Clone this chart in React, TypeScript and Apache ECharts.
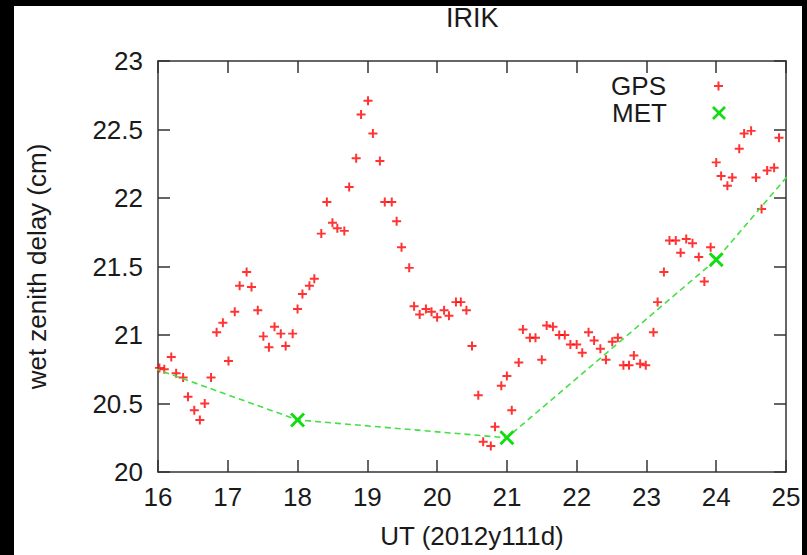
import React, { useEffect, useRef } from "react";
import * as echarts from "echarts";

const title = "IRIK";
const xAxisName = "UT (2012y111d)";
const yAxisName = "wet zenith delay (cm)";
const seriesNames = ["GPS", "MET"];

const gpsTimes = [
  16.02, 16.09, 16.19, 16.26, 16.36, 16.43, 16.52, 16.6, 16.67, 16.76, 16.84, 16.93,
  17.01, 17.1, 17.17, 17.27, 17.34, 17.43, 17.51, 17.59, 17.67, 17.76, 17.83, 17.93,
  18.0, 18.07, 18.17, 18.24, 18.34, 18.42, 18.5, 18.57, 18.67, 18.74, 18.84, 18.91,
  19.01, 19.08, 19.18, 19.25, 19.35, 19.42, 19.49, 19.6, 19.67, 19.75, 19.84, 19.92,
  20.0, 20.1, 20.17, 20.27, 20.34, 20.42, 20.5, 20.59, 20.66, 20.77, 20.83, 20.92,
  21.0, 21.07, 21.17, 21.23, 21.33, 21.41, 21.5, 21.57, 21.66, 21.75, 21.83, 21.91,
  22.0, 22.08, 22.17, 22.25, 22.34, 22.42, 22.51, 22.59, 22.67, 22.75, 22.82, 22.91,
  22.99, 23.1, 23.16, 23.25, 23.33, 23.42, 23.49, 23.57, 23.66, 23.75, 23.83, 23.92,
  24.0, 24.07, 24.16, 24.23, 24.33, 24.4, 24.5, 24.57, 24.65, 24.73, 24.83, 24.9,
];
const gpsDelays = [
  20.76, 20.75, 20.84, 20.72, 20.69, 20.55, 20.45, 20.38, 20.5, 20.69, 21.02, 21.09,
  20.81, 21.17, 21.36, 21.46, 21.35, 21.18, 20.99, 20.91, 21.06, 21.01, 20.92, 21.01,
  21.19, 21.3, 21.36, 21.41, 21.74, 21.97, 21.82, 21.78, 21.76, 22.08, 22.29, 22.61,
  22.71, 22.47, 22.27, 21.97, 21.97, 21.83, 21.64, 21.49, 21.21, 21.15, 21.19, 21.17,
  21.13, 21.18, 21.14, 21.24, 21.24, 21.18, 20.92, 20.56, 20.22, 20.19, 20.33, 20.63,
  20.7, 20.45, 20.8, 21.04, 20.98, 20.98, 20.82, 21.07, 21.06, 21.0, 21.0, 20.93,
  20.93, 20.87, 21.02, 20.96, 20.9, 20.82, 20.95, 20.98, 20.78, 20.78, 20.85, 20.79,
  20.78, 21.02, 21.24, 21.46, 21.69, 21.69, 21.6, 21.7, 21.67, 21.57, 21.39, 21.64,
  22.26, 22.16, 22.09, 22.15, 22.36, 22.47, 22.49, 22.15, 21.92, 22.2, 22.22, 22.44,
];

const metTimes = [15, 18, 21, 24, 27];
const metDelays = [20.93, 20.38, 20.25, 21.55, 23.34];

const xTicks = { min: 16, max: 25, interval: 1 };
const yTicks = { min: 20, max: 23, interval: 0.5 };

const plusPath = "path://M3.9,0H6.1V3.9H10V6.1H6.1V10H3.9V6.1H0V3.9H3.9Z";
const crossPath =
  "path://M0,2.2L2.2,0L8,5.8L13.8,0L16,2.2L10.2,8L16,13.8L13.8,16L8,10.2L2.2,16L0,13.8L5.8,8Z";

const FONT = "'Liberation Sans', Arial, sans-serif";
const TEXT = "#1a1a1a";
const AXIS = "#333333";

export default function App() {
  const ref = useRef<HTMLDivElement>(null);

  useEffect(() => {
    if (!ref.current) return;
    const chart = echarts.init(ref.current, undefined, { renderer: "svg" });

    const gpsData = gpsTimes.map((t, i) => [t, gpsDelays[i]]);
    const metData = metTimes.map((t, i) => [t, metDelays[i]]);

    const axisLine = { show: true, lineStyle: { color: AXIS, width: 1.5 } };
    const axisTick = { show: true, inside: true, length: 12, lineStyle: { color: AXIS, width: 1.5 } };

    const option: any = {
      animation: false,
      backgroundColor: "#000000",
      textStyle: { fontFamily: FONT },
      graphic: {
        elements: [
          {
            type: "rect",
            z: -100,
            shape: { x: 14, y: 6, width: 788, height: 549 },
            style: { fill: "#ffffff" },
            silent: true,
          },
        ],
      },
      title: {
        text: title,
        left: 446,
        top: 4,
        padding: 0,
        textStyle: { fontFamily: FONT, fontSize: 27, fontWeight: "normal", color: TEXT },
      },
      legend: [
        {
          data: [{ name: seriesNames[0], icon: plusPath }],
          align: "right",
          right: 84,
          top: 71,
          padding: 0,
          itemWidth: 9,
          itemHeight: 9,
          selectedMode: false,
          textStyle: {
            fontFamily: FONT,
            fontSize: 26,
            color: TEXT,
            lineHeight: 30,
            padding: [0, 43, 0, 0],
          },
        },
        {
          data: [{ name: seriesNames[1], icon: crossPath }],
          align: "right",
          right: 81,
          top: 98,
          padding: 0,
          itemWidth: 14,
          itemHeight: 14,
          selectedMode: false,
          textStyle: {
            fontFamily: FONT,
            fontSize: 26,
            color: TEXT,
            lineHeight: 30,
            padding: [0, 40, 0, 0],
          },
        },
      ],
      grid: { left: 158, right: 21, top: 61, bottom: 83, containLabel: false },
      xAxis: [
        {
          type: "value",
          position: "bottom",
          min: xTicks.min,
          max: xTicks.max,
          interval: xTicks.interval,
          name: xAxisName,
          nameLocation: "middle",
          nameGap: 51,
          nameTextStyle: { fontFamily: FONT, fontSize: 26, color: TEXT },
          axisLine,
          axisTick,
          splitLine: { show: false },
          axisLabel: { fontFamily: FONT, fontSize: 26, color: TEXT, margin: 12 },
        },
        {
          type: "value",
          position: "top",
          min: xTicks.min,
          max: xTicks.max,
          interval: xTicks.interval,
          axisLine,
          axisTick,
          splitLine: { show: false },
          axisLabel: { show: false },
        },
      ],
      yAxis: [
        {
          type: "value",
          position: "left",
          min: yTicks.min,
          max: yTicks.max,
          interval: yTicks.interval,
          name: yAxisName,
          nameLocation: "middle",
          nameGap: 108,
          nameTextStyle: { fontFamily: FONT, fontSize: 26, color: TEXT },
          axisLine,
          axisTick,
          splitLine: { show: false },
          axisLabel: { fontFamily: FONT, fontSize: 26, color: TEXT, margin: 15 },
        },
        {
          type: "value",
          position: "right",
          min: yTicks.min,
          max: yTicks.max,
          interval: yTicks.interval,
          axisLine,
          axisTick,
          splitLine: { show: false },
          axisLabel: { show: false },
        },
      ],
      series: [
        {
          name: seriesNames[0],
          type: "scatter",
          xAxisIndex: 0,
          yAxisIndex: 0,
          symbol: plusPath,
          symbolSize: 9,
          itemStyle: { color: "#ff0000" },
          data: gpsData,
          z: 2,
        },
        {
          name: seriesNames[1],
          type: "line",
          xAxisIndex: 0,
          yAxisIndex: 0,
          symbol: crossPath,
          symbolSize: 15,
          showAllSymbol: true,
          clip: true,
          itemStyle: { color: "#11dd11" },
          lineStyle: { color: "#44e044", width: 1.6, type: [6, 4] },
          data: metData,
          z: 3,
        },
      ],
    };

    chart.setOption(option);
    return () => chart.dispose();
  }, []);

  return (
    <div
      ref={ref}
      style={{ position: "absolute", left: 0, top: 0, width: 807, height: 555 }}
    />
  );
}
